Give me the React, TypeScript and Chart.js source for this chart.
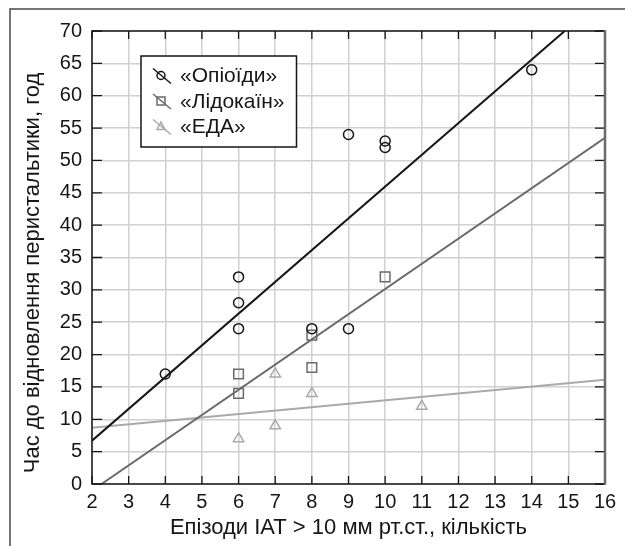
import React, { useEffect, useRef } from "react";
import { Chart, registerables } from "chart.js";

Chart.register(...registerables);

// ---- data ----
const opioidX = [4, 6, 6, 6, 8, 9, 9, 10, 10, 14];
const opioidY = [17, 32, 28, 24, 24, 54, 24, 53, 52, 64];
const lidoX = [6, 6, 8, 8, 10];
const lidoY = [17, 14, 23, 18, 32];
const edaX = [6, 7, 7, 8, 11];
const edaY = [7, 17, 9, 14, 12];

// trend line end points
const opioidFitX = [2, 14.9];
const opioidFitY = [6.7, 70];
const lidoFitX = [2.26, 16];
const lidoFitY = [0, 53.5];
const edaFitX = [2, 16];
const edaFitY = [8.7, 16.1];

const seriesNames = ["«Опіоїди»", "«Лідокаїн»", "«ЕДА»"];
const seriesColors = ["#161616", "#6a6a6a", "#a9a9a9"];
const seriesMarkers = ["circle", "rect", "triangle"];

const xMin = 2;
const xMax = 16;
const yMin = 0;
const yMax = 70;
const yStep = 5;
const xStep = 1;

const xTitle = "Епізоди ІАТ > 10 мм рт.ст., кількість";
const yTitle = "Час до відновлення перистальтики, год";

const FONT = "'Liberation Sans', Arial, Helvetica, sans-serif";

const zip = (xs: number[], ys: number[]) => xs.map((x, i) => ({ x, y: ys[i] }));

function drawMarker(ctx: CanvasRenderingContext2D, kind: string, x: number, y: number, r: number) {
  ctx.beginPath();
  if (kind === "circle") {
    ctx.arc(x, y, r, 0, Math.PI * 2);
  } else if (kind === "rect") {
    ctx.rect(x - r, y - r, 2 * r, 2 * r);
  } else {
    ctx.moveTo(x, y - r * 1.1);
    ctx.lineTo(x + r, y + r * 0.75);
    ctx.lineTo(x - r, y + r * 0.75);
    ctx.closePath();
  }
  ctx.stroke();
}

const framePlugin = {
  id: "framePlugin",
  beforeDraw(chart: any) {
    const { ctx, width, height } = chart;
    ctx.save();
    ctx.fillStyle = "#ffffff";
    ctx.fillRect(0, 0, width, height);
    ctx.strokeStyle = "#4a4a4a";
    ctx.lineWidth = 1.5;
    ctx.beginPath();
    ctx.moveTo(10, height);
    ctx.lineTo(10, 9);
    ctx.lineTo(width, 9);
    ctx.stroke();
    // y axis title, centred on the figure height
    ctx.translate(33, height / 2);
    ctx.rotate(-Math.PI / 2);
    ctx.font = `22px ${FONT}`;
    ctx.fillStyle = "#161616";
    ctx.textAlign = "center";
    ctx.textBaseline = "middle";
    ctx.fillText(yTitle, 0, 0);
    ctx.restore();
  },
  afterDraw(chart: any) {
    const { ctx, chartArea } = chart;
    const { left, right, top, bottom } = chartArea;
    const xs = chart.scales.x;
    const ys = chart.scales.y;
    ctx.save();
    // inner ticks
    ctx.strokeStyle = "#161616";
    ctx.lineWidth = 1.3;
    ctx.beginPath();
    for (let v = yMin; v <= yMax; v += yStep) {
      const py = ys.getPixelForValue(v);
      ctx.moveTo(left, py);
      ctx.lineTo(left + 10, py);
      ctx.moveTo(right, py);
      ctx.lineTo(right - 10, py);
    }
    for (let v = xMin; v <= xMax; v += xStep) {
      const px = xs.getPixelForValue(v);
      ctx.moveTo(px, bottom);
      ctx.lineTo(px, bottom - 8);
      ctx.moveTo(px, top);
      ctx.lineTo(px, top + 8);
    }
    ctx.stroke();
    // border
    ctx.strokeStyle = "#161616";
    ctx.lineWidth = 1.5;
    ctx.beginPath();
    ctx.moveTo(right, top);
    ctx.lineTo(left, top);
    ctx.lineTo(left, bottom);
    ctx.lineTo(right, bottom);
    ctx.stroke();
    ctx.strokeStyle = "#6a6a6a";
    ctx.lineWidth = 2.5;
    ctx.beginPath();
    ctx.moveTo(right, top - 0.75);
    ctx.lineTo(right, bottom + 0.75);
    ctx.stroke();

    // legend
    ctx.font = `21px ${FONT}`;
    const textX = 180;
    const rows = [76.5, 102, 127.5];
    let maxW = 0;
    seriesNames.forEach((n) => {
      maxW = Math.max(maxW, ctx.measureText(n).width);
    });
    const bx = 141;
    const by = 56;
    const bw = textX + maxW + 12 - bx;
    const bh = 147 - by;
    ctx.fillStyle = "#ffffff";
    ctx.fillRect(bx, by, bw, bh);
    ctx.strokeStyle = "#161616";
    ctx.lineWidth = 1.5;
    ctx.strokeRect(bx, by, bw, bh);
    seriesNames.forEach((n, i) => {
      const cy = rows[i];
      const cx = 162;
      ctx.strokeStyle = seriesColors[i];
      ctx.lineWidth = 1.5;
      ctx.beginPath();
      ctx.moveTo(cx - 9, cy - 8);
      ctx.lineTo(cx + 9, cy + 7);
      ctx.stroke();
      drawMarker(ctx, seriesMarkers[i], cx - 1, cy - 1, 4);
      ctx.fillStyle = "#161616";
      ctx.textAlign = "left";
      ctx.textBaseline = "middle";
      ctx.fillText(n, textX, cy);
    });
    ctx.restore();
  },
};

export default function App() {
  const canvasRef = useRef<HTMLCanvasElement | null>(null);

  useEffect(() => {
    if (!canvasRef.current) return;
    const pointDs = (label: string, xs: number[], ys: number[], i: number, radius: number) => ({
      label,
      data: zip(xs, ys),
      showLine: false,
      pointStyle: seriesMarkers[i],
      pointRadius: radius,
      pointBorderWidth: 1.5,
      pointBorderColor: seriesColors[i],
      pointBackgroundColor: "rgba(0,0,0,0)",
      borderColor: seriesColors[i],
      order: 1,
    });
    const lineDs = (label: string, xs: number[], ys: number[], i: number) => ({
      label,
      data: zip(xs, ys),
      showLine: true,
      pointRadius: 0,
      borderColor: seriesColors[i],
      borderWidth: 2,
      fill: false,
      order: 2,
    });

    const chart = new Chart(canvasRef.current, {
      type: "scatter",
      data: {
        datasets: [
          lineDs("fit0", opioidFitX, opioidFitY, 0),
          lineDs("fit1", lidoFitX, lidoFitY, 1),
          lineDs("fit2", edaFitX, edaFitY, 2),
          pointDs(seriesNames[0], opioidX, opioidY, 0, 5),
          pointDs(seriesNames[1], lidoX, lidoY, 1, 6.8),
          pointDs(seriesNames[2], edaX, edaY, 2, 6),
        ],
      },
      options: {
        animation: false,
        responsive: false,
        devicePixelRatio: 1,
        layout: { padding: { top: 31, right: 20, left: 0, bottom: 0 } },
        plugins: {
          legend: { display: false },
          tooltip: { enabled: false },
        },
        scales: {
          x: {
            type: "linear",
            min: xMin,
            max: xMax,
            afterFit: (s: any) => {
              s.height = 62;
            },
            ticks: {
              stepSize: xStep,
              padding: 6,
              color: "#161616",
              font: { family: FONT, size: 20 },
              maxRotation: 0,
            },
            grid: { color: "#d0d0d0", lineWidth: 1.5, drawTicks: false },
            border: { display: false },
            title: {
              display: true,
              text: xTitle,
              color: "#161616",
              font: { family: FONT, size: 22 },
              padding: { top: 0, bottom: 5 },
            },
          },
          y: {
            type: "linear",
            min: yMin,
            max: yMax,
            afterFit: (s: any) => {
              s.width = 92;
            },
            ticks: {
              stepSize: yStep,
              padding: 10,
              color: "#161616",
              font: { family: FONT, size: 20 },
            },
            grid: { color: "#d0d0d0", lineWidth: 1.5, drawTicks: false },
            border: { display: false },
            title: { display: false },
          },
        },
      },
      plugins: [framePlugin],
    } as any);
    return () => chart.destroy();
  }, []);

  return (
    <div style={{ position: "absolute", left: 0, top: 0, width: 625, height: 546 }}>
      <canvas ref={canvasRef} width={625} height={546} style={{ display: "block" }} />
    </div>
  );
}
